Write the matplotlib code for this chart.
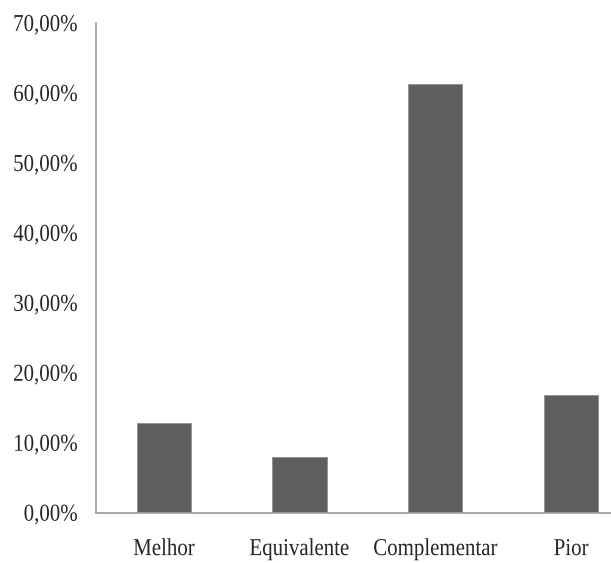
import matplotlib
matplotlib.use("Agg")
import matplotlib.pyplot as plt
from matplotlib.patheffects import AbstractPathEffect
from matplotlib.transforms import Affine2D
from matplotlib.ticker import FixedLocator, FuncFormatter

categories = ["Melhor", "Equivalente", "Complementar", "Pior"]
values = [12.8, 7.9, 61.3, 16.8]
y_ticks = [0, 10, 20, 30, 40, 50, 60, 70]

SX = 0.86  # slight horizontal condensing of the serif text, as in the reference


class Condense(AbstractPathEffect):
    def __init__(self, sx, anchor="center"):
        super().__init__()
        self.sx = sx
        self.anchor = anchor

    def draw_path(self, renderer, gc, tpath, affine, rgbFace=None):
        ext = tpath.get_extents()
        if self.anchor == "right":
            x0 = ext.x1
        elif self.anchor == "left":
            x0 = ext.x0
        else:
            x0 = (ext.x0 + ext.x1) / 2
        t = Affine2D().translate(-x0, 0).scale(self.sx, 1).translate(x0, 0) + affine
        renderer.draw_path(gc, tpath, t, rgbFace)


W, H = 611, 563
fig = plt.figure(figsize=(W / 100, H / 100), dpi=100)
ax = fig.add_axes([96 / W, (H - 512.7) / H, 542.8 / W, (512.7 - 23) / H])

ax.bar(range(len(categories)), values, width=0.4, color="#5f5f5f",
       edgecolor="#8f8f8f", linewidth=0.6, zorder=2)

ax.set_xlim(-0.5, 3.5)
ax.set_ylim(0, 70)
ax.yaxis.set_major_locator(FixedLocator(y_ticks))
ax.yaxis.set_major_formatter(FuncFormatter(lambda v, p: f"{v:.2f}".replace(".", ",") + "%"))
ax.set_xticks(range(len(categories)))
ax.set_xticklabels(categories)

for s in ["top", "right"]:
    ax.spines[s].set_visible(False)
for s in ["left", "bottom"]:
    ax.spines[s].set_color("#a0a0a0")
    ax.spines[s].set_linewidth(1.3)

ax.tick_params(axis="both", length=0)
ax.tick_params(axis="y", pad=13.5)
ax.tick_params(axis="x", pad=19)

for lab in ax.get_yticklabels():
    lab.set_fontfamily("Liberation Serif")
    lab.set_fontsize(17.5)
    lab.set_color("#262626")
    lab.set_path_effects([Condense(SX, "right")])
for lab in ax.get_xticklabels():
    lab.set_fontfamily("Liberation Serif")
    lab.set_fontsize(17.5)
    lab.set_color("#262626")
    lab.set_path_effects([Condense(SX, "center")])

fig.savefig("out.png", dpi=100)
